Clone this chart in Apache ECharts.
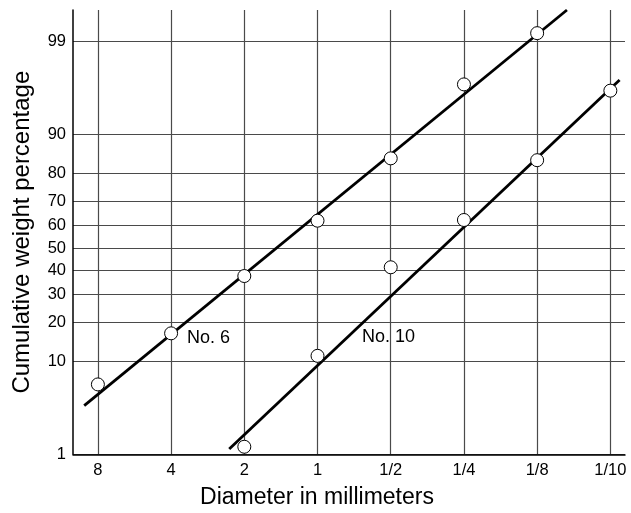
<!DOCTYPE html>
<html>
<head>
<meta charset="utf-8">
<script src="https://cdn.jsdelivr.net/npm/echarts@6/dist/echarts.min.js"></script>
<style>html,body{margin:0;padding:0;background:#fff}#c{width:631px;height:513px}</style>
</head>
<body>
<div id="c"></div>
<script>
// Diameter categories (mm), equally spaced along x
const diameterLabels = ['8', '4', '2', '1', '1/2', '1/4', '1/8', '1/10'];
// Probability-scale tick labels (%)
const yTickPct = [1, 10, 20, 30, 40, 50, 60, 70, 80, 90, 99];
// Observed cumulative weight percentages
const no6Pct = [6.2, 16.8, 37.6, 62.1, 84.4, 96.75, 99.23, null];
const no10Pct = [null, null, 1.25, 11.2, 41.4, 62.4, 83.9, 96.2];
// Fitted straight lines (x in category index units, y in %)
const no6FitX = [-0.187, 6.407];
const no6FitPct = [3.77, 99.636];
const no10FitX = [1.794, 7.126];
const no10FitPct = [1.17, 97.09];
// Curve labels
const curveNames = ['No. 6', 'No. 10'];
const curveLabelX = [1.216, 3.607];
const curveLabelPct = [15.4, 15.9];

// inverse standard normal CDF (Acklam) -> probability-paper scale
function probit(pct) {
  const p = pct / 100;
  const a = [-3.969683028665376e+01, 2.209460984245205e+02, -2.759285104469687e+02, 1.383577518672690e+02, -3.066479806614716e+01, 2.506628277459239e+00];
  const b = [-5.447609879822406e+01, 1.615858368580409e+02, -1.556989798598866e+02, 6.680131188771972e+01, -1.328068155288572e+01];
  const c = [-7.784894002430293e-03, -3.223964580411365e-01, -2.400758277161838e+00, -2.549732539343734e+00, 4.374664141464968e+00, 2.938163982698783e+00];
  const d = [7.784695709041462e-03, 3.224671290700398e-01, 2.445134137142996e+00, 3.754408661907416e+00];
  const pl = 0.02425, ph = 1 - pl;
  let q, r;
  if (p < pl) {
    q = Math.sqrt(-2 * Math.log(p));
    return (((((c[0]*q+c[1])*q+c[2])*q+c[3])*q+c[4])*q+c[5]) / ((((d[0]*q+d[1])*q+d[2])*q+d[3])*q+1);
  } else if (p <= ph) {
    q = p - 0.5; r = q * q;
    return (((((a[0]*r+a[1])*r+a[2])*r+a[3])*r+a[4])*r+a[5])*q / (((((b[0]*r+b[1])*r+b[2])*r+b[3])*r+b[4])*r+1);
  } else {
    q = Math.sqrt(-2 * Math.log(1 - p));
    return -(((((c[0]*q+c[1])*q+c[2])*q+c[3])*q+c[4])*q+c[5]) / ((((d[0]*q+d[1])*q+d[2])*q+d[3])*q+1);
  }
}

const yTickZ = yTickPct.map(probit);
const xTickIdx = diameterLabels.map((_, i) => i);
const toPts = (xs, ps) => xs.map((x, i) => ps[i] == null ? null : [x, probit(ps[i])]).filter(v => v);

const FONT = 'Liberation Sans, Arial, Helvetica, sans-serif';
const GRID_COLOR = '#4a4a4a';

const chart = echarts.init(document.getElementById('c'), null, { renderer: 'canvas' });
chart.setOption({
  backgroundColor: '#fff',
  animation: false,
  grid: { left: 73, right: 6, top: 10, bottom: 58.7, containLabel: false, outerBoundsMode: 'none' },
  xAxis: {
    type: 'value',
    min: -0.34,
    max: 7.2,
    axisLine: { show: true, onZero: false, lineStyle: { color: '#000', width: 1.5 } },
    axisTick: { show: false, customValues: xTickIdx },
    splitLine: { show: true, lineStyle: { color: GRID_COLOR, width: 1.2 } },
    axisLabel: {
      customValues: xTickIdx,
      formatter: v => diameterLabels[Math.round(v)],
      color: '#000', fontSize: 16.5, fontFamily: FONT, margin: 8
    }
  },
  yAxis: {
    type: 'value',
    min: probit(1),
    max: 2.684,
    axisLine: { show: true, onZero: false, lineStyle: { color: '#000', width: 1.5 } },
    axisTick: { show: false, customValues: yTickZ },
    splitLine: { show: true, lineStyle: { color: GRID_COLOR, width: 1.2 } },
    axisLabel: {
      customValues: yTickZ,
      formatter: v => {
        let best = 0, bd = Infinity;
        yTickZ.forEach((z, i) => { const d = Math.abs(z - v); if (d < bd) { bd = d; best = i; } });
        return String(yTickPct[best]);
      },
      color: '#000', fontSize: 16.5, fontFamily: FONT, margin: 7
    },
    name: 'Cumulative weight percentage',
    nameLocation: 'middle',
    nameGap: 39,
    nameRotate: 90,
    nameTextStyle: { color: '#000', fontSize: 24, fontFamily: FONT }
  },
  graphic: [{
    type: 'text', x: 317, y: 498,
    style: { text: 'Diameter in millimeters', fill: '#000', font: '23px ' + FONT, textAlign: 'center', textVerticalAlign: 'middle' }
  }],
  series: [
    { type: 'line', data: toPts(no6FitX, no6FitPct), symbol: 'none', lineStyle: { color: '#000', width: 2.8 }, z: 3 },
    { type: 'line', data: toPts(no10FitX, no10FitPct), symbol: 'none', lineStyle: { color: '#000', width: 2.8 }, z: 3 },
    { type: 'scatter', data: toPts(xTickIdx, no6Pct), symbol: 'circle', symbolSize: 13,
      itemStyle: { color: '#fff', borderColor: '#000', borderWidth: 1, opacity: 1 }, z: 5 },
    { type: 'scatter', data: toPts(xTickIdx, no10Pct), symbol: 'circle', symbolSize: 13,
      itemStyle: { color: '#fff', borderColor: '#000', borderWidth: 1, opacity: 1 }, z: 5 },
    { type: 'scatter', symbolSize: 0, silent: true, z: 6,
      data: curveNames.map((n, i) => ({ name: n, value: [curveLabelX[i], probit(curveLabelPct[i])] })),
      label: { show: true, position: 'right', distance: 0, formatter: p => p.name, color: '#000', opacity: 1, fontSize: 18, fontFamily: FONT } }
  ]
});
</script>
</body>
</html>
